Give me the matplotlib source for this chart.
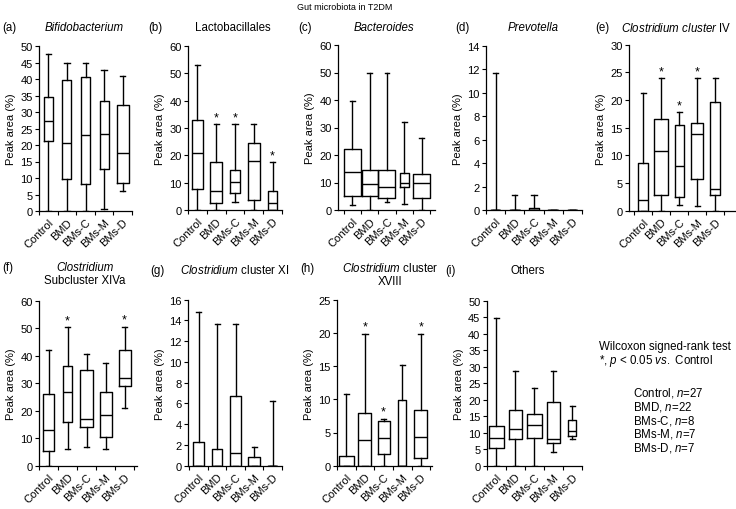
import matplotlib
matplotlib.use("Agg")
import matplotlib.pyplot as plt
import numpy as np

plt.rcParams['font.family'] = ['Liberation Sans', 'DejaVu Sans']
plt.rcParams['mathtext.fontset'] = 'custom'
plt.rcParams['mathtext.rm'] = 'Liberation Sans'
plt.rcParams['mathtext.it'] = 'Liberation Sans:italic'
plt.rcParams['mathtext.default'] = 'regular'

groups = ["Control", "BMD", "BMs-C", "BMs-M", "BMs-D"]

# per group: [whisker low, Q1, median, Q3, whisker high]
bifidobacterium = [[0, 21.2, 27.4, 34.4, 47.6], [0, 9.8, 20.6, 39.6, 44.8],
                   [0, 8.1, 23.0, 40.6, 44.8], [0.5, 12.6, 23.2, 33.2, 42.8],
                   [6.1, 8.4, 17.7, 32.0, 41.0]]
lactobacillales = [[0, 7.8, 21.0, 33.0, 53.2], [0, 2.6, 7.0, 17.6, 31.4],
                   [3.0, 6.1, 10.2, 14.8, 31.4], [0, 3.5, 18.0, 24.4, 31.4],
                   [0, 0, 2.5, 7.0, 17.6]]
bacteroides = [[2.0, 5.0, 13.8, 22.2, 39.6], [0, 5.0, 9.5, 14.7, 49.8],
               [3.0, 4.5, 8.2, 14.7, 49.8], [2.3, 8.3, 10.0, 13.5, 32.0],
               [0, 4.5, 9.8, 13.0, 26.2]]
prevotella = [[0, 0, 0, 0, 11.7], [0, 0, 0, 0, 1.3], [0, 0, 0, 0.15, 1.3],
              [0, 0, 0, 0, 0], [0, 0, 0, 0, 0]]
clostridium_iv = [[0, 0, 2.0, 8.7, 21.2], [0, 2.8, 10.8, 16.5, 24.0],
                  [1.1, 2.5, 8.0, 15.4, 17.8], [0.9, 5.7, 13.8, 15.8, 24.0],
                  [0, 2.8, 4.0, 19.6, 24.0]]
clostridium_xiva = [[0, 5.5, 13.0, 26.0, 42.2], [6.2, 16.0, 26.8, 36.5, 50.6],
                    [6.8, 14.0, 17.0, 35.0, 40.8], [6.2, 10.5, 18.4, 26.8, 37.4],
                    [21.2, 29.1, 31.8, 42.2, 50.7]]
clostridium_xi = [[0, 0, 0, 2.3, 14.8], [0, 0, 0, 1.6, 13.7], [0, 0, 1.2, 6.7, 13.7],
                  [0, 0, 0, 0.8, 1.8], [0, 0, 0, 0, 6.2]]
clostridium_xviii = [[0, 0, 0, 1.4, 10.8], [0, 0, 3.8, 8.0, 19.9],
                     [0, 1.7, 4.2, 6.7, 7.1], [0, 0, 0, 9.9, 15.1],
                     [0, 1.1, 4.3, 8.4, 19.9]]
others = [[0, 5.5, 8.5, 12.0, 44.7], [0, 8.0, 11.2, 17.0, 28.7],
          [0, 8.5, 12.4, 15.8, 23.5], [4.3, 6.8, 8.0, 19.4, 28.7],
          [8.0, 9.0, 10.5, 14.0, 18.0]]

# groups marked with * (p < 0.05 vs. Control)
sig_b = ["BMD", "BMs-C", "BMs-D"]
sig_e = ["BMD", "BMs-C", "BMs-M"]
sig_f = ["BMD", "BMs-D"]
sig_h = ["BMD", "BMs-C", "BMs-D"]

legend_n = [27, 22, 8, 7, 7]

W, H = 736, 510
fig = plt.figure(figsize=(W / 100, H / 100), dpi=100)

# layout: (left px, right px, y of zero px, y of top px, xlim, box widths)
panels = [
    (bifidobacterium, 50, 5, [], (39, 132, 212, 47), (-0.5, 4.5), [0.48, 0.49, 0.53, 0.49, 0.63]),
    (lactobacillales, 60, 10, sig_b, (188, 282, 211, 47), (-0.5, 4.5), [0.57, 0.66, 0.53, 0.66, 0.5]),
    (bacteroides, 60, 10, [], (338, 435, 211, 46), (-0.82, 4.77), [0.98, 0.92, 0.98, 0.52, 0.98]),
    (prevotella, 14, 2, [], (486, 582, 211, 47), (-0.5, 4.5), [0.5, 0.5, 0.52, 0.5, 0.5]),
    (clostridium_iv, 30, 5, sig_e, (629, 735, 211.7, 45.7), (-0.78, 5.1), [0.52, 0.78, 0.5, 0.7, 0.56]),
    (clostridium_xiva, 60, 10, sig_f, (39, 137, 466.7, 302), (-0.46, 4.65), [0.58, 0.52, 0.68, 0.63, 0.63]),
    (clostridium_xi, 16, 2, [], (188, 282, 466.7, 300.7), (-0.57, 4.45), [0.57, 0.53, 0.62, 0.62, 0.5]),
    (clostridium_xviii, 25, 5, sig_h, (337, 432, 466.7, 300.7), (-0.48, 4.6), [0.8, 0.7, 0.64, 0.44, 0.7]),
    (others, 50, 5, [], (486.7, 582, 466.7, 301.7), (-0.37, 4.49), [0.77, 0.66, 0.77, 0.71, 0.42]),
]

FS = 8
TS = 8.3
for data, ymax, step, sig, (l, r, y0, yt), xl, widths in panels:
    ax = fig.add_axes([l / W, 1 - y0 / H, (r - l) / W, (y0 - yt) / H])
    stats = [dict(whislo=d[0], q1=d[1], med=d[2], q3=d[3], whishi=d[4], label=g)
             for d, g in zip(data, groups)]
    lp = dict(color='black', linewidth=1.0)
    ax.bxp(stats, positions=range(len(groups)), widths=widths, capwidths=0.28,
           showfliers=False, boxprops=lp, whiskerprops=lp, capprops=lp,
           medianprops=lp, manage_ticks=False)
    ax.set_xlim(*xl)
    ax.set_ylim(0, ymax)
    ax.set_yticks(np.arange(0, ymax + 0.01, step))
    ax.set_yticklabels([f"{v:g}" for v in np.arange(0, ymax + 0.01, step)], fontsize=FS)
    ax.set_xticks(range(len(groups)))
    ax.set_xticklabels(groups, rotation=45, ha='right', va='top',
                       rotation_mode='anchor', fontsize=FS)
    ax.set_xticks(np.arange(-0.5, len(groups)), minor=True)
    ax.tick_params(axis='x', which='major', length=0, pad=4)
    ax.tick_params(axis='x', which='minor', length=3, width=0.8, direction='out')
    ax.tick_params(axis='y', length=3, width=0.8, direction='out', pad=1.5)
    for s in ('top', 'right'):
        ax.spines[s].set_visible(False)
    for s in ('left', 'bottom'):
        ax.spines[s].set_linewidth(0.9)
    ax.set_ylabel("Peak area (%)", fontsize=FS, labelpad=3)
    for g in sig:
        i = groups.index(g)
        ax.annotate("*", (i, data[i][4]), xytext=(0, 0.5), textcoords='offset points',
                    ha='center', va='bottom', fontsize=9)

def ftext(x, y, s, **kw):
    kw.setdefault('fontsize', TS)
    kw.setdefault('va', 'center')
    fig.text(x / W, 1 - y / H, s, **kw)

ftext(297, 7, "Gut microbiota in T2DM", ha='left', fontsize=6.5)

ftext(2, 28, "(a)", ha='left')
ftext(84, 28, "Bifidobacterium", ha='center', style='italic')
ftext(148, 28, "(b)", ha='left')
ftext(233, 28, "Lactobacillales", ha='center')
ftext(298, 28, "(c)", ha='left')
ftext(384, 28, "Bacteroides", ha='center', style='italic')
ftext(455, 28, "(d)", ha='left')
ftext(533, 28, "Prevotella", ha='center', style='italic')
ftext(595, 28, "(e)", ha='left')
ftext(676, 28, r"$\mathit{Clostridium\ cluster}$ IV", ha='center')

ftext(2, 268, "(f)", ha='left')
ftext(85, 268, "Clostridium", ha='center', style='italic')
ftext(85, 281, "Subcluster XIVa", ha='center')
ftext(150, 271, "(g)", ha='left')
ftext(235, 271, r"$\mathit{Clostridium}$ cluster XI", ha='center')
ftext(300, 269, "(h)", ha='left')
ftext(390, 269, r"$\mathit{Clostridium}$ cluster", ha='center')
ftext(390, 282, "XVIII", ha='center')
ftext(445, 271, "(i)", ha='left')
ftext(528, 271, "Others", ha='center')

ftext(599, 347, "Wilcoxon signed-rank test", ha='left')
ftext(599, 361, r"*, $\mathit{p}$ < 0.05 $\mathit{vs.}$ Control", ha='left')
for k, (g, n) in enumerate(zip(groups, legend_n)):
    ftext(633, 393 + 13.8 * k, g + r", $\mathit{n}$=" + str(n), ha='left')

fig.savefig("out.png", dpi=100)
